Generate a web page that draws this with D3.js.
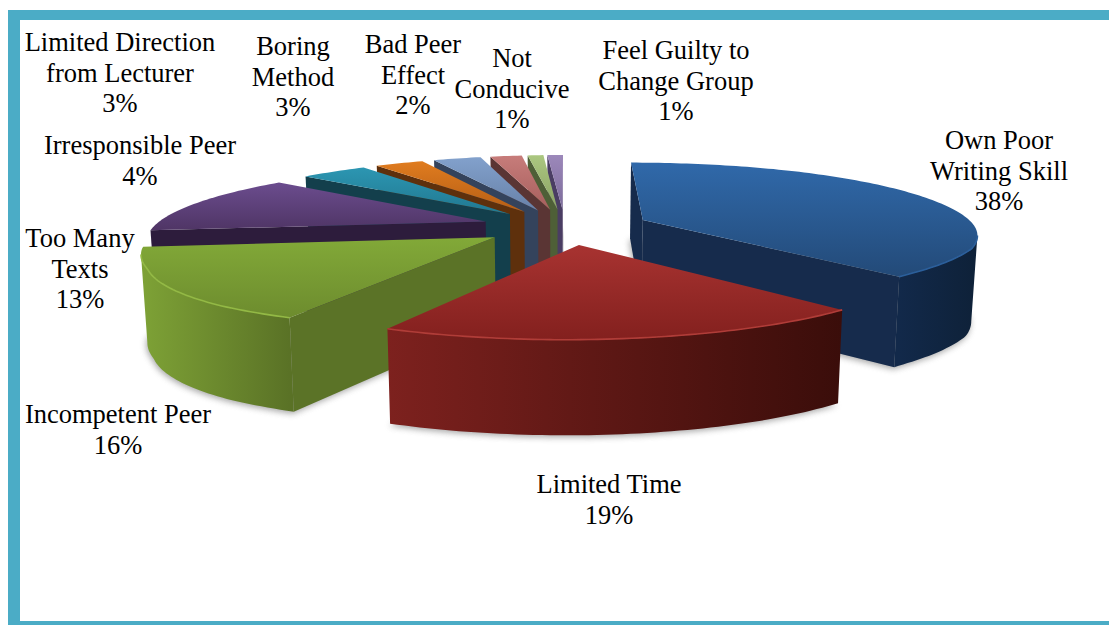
<!DOCTYPE html>
<html><head><meta charset="utf-8">
<script src="https://cdn.jsdelivr.net/npm/d3@7"></script>
<style>html,body{margin:0;padding:0;background:#fff}svg{display:block}text{font-family:"Liberation Serif",serif;font-size:26.5px;fill:#000}</style>
</head><body><svg id="c" width="1109" height="625"></svg>
<script>
// ---- data ----
const categories = ["Own Poor Writing Skill","Limited Time","Incompetent Peer","Too Many Texts","Irresponsible Peer","Limited Direction from Lecturer","Boring Method","Bad Peer Effect","Not Conducive","Feel Guilty to Change Group"];
const values = [38,19,16,13,4,3,3,2,1,1];
const labelLines = [["Own Poor","Writing Skill"],["Limited Time"],["Incompetent Peer"],["Too Many","Texts"],["Irresponsible Peer"],["Limited Direction","from Lecturer"],["Boring","Method"],["Bad Peer","Effect"],["Not","Conducive"],["Feel Guilty to","Change Group"]];
// ---- style / layout ----
const topLight = ["#3069aa","#a83331","#82a938","#6b4c8e","#2c96b2","#e07c1f","#82a1cc","#c77c7a","#abc780","#9c88ba"];
const topDark  = ["#234a78","#83201e","#6d8c2e","#4f3565","#217890","#b65e15","#6881a8","#a65f5d","#8aa264","#7c6b9b"];
const sideCol  = ["#162b4c","#5a1815","#5b7327","#2d1c3c","#133f4c","#5e300c","#34435c","#5a3534","#4e5f37","#4a3d63"];
const outerL   = ["#12294a","#7d211e","#7ea236","#2d1c3c","#133f4c","#5e300c","#34435c","#5a3534","#4e5f37","#4a3d63"];
const outerR   = ["#0e2138","#3a0d0a","#5a7226","#2d1c3c","#133f4c","#5e300c","#34435c","#5a3534","#4e5f37","#4a3d63"];
const rimCol   = ["#2c5f9b","#b03c38","#93b945",null,null,null,null,null,null,null];
const labelX = [999,609,118,80,140,120,293,413,512,676];
const labelY = [149,493,423,247,154,51,55,53,67,59];
const drawOrder = [9,8,7,6,5,4,0,3,2,1];

const svg = d3.select("#c");
const defs = svg.append("defs");
defs.append("filter").attr("id","blur").attr("x","-10%").attr("y","-20%").attr("width","120%").attr("height","140%")
  .append("feGaussianBlur").attr("stdDeviation",3);
defs.append("filter").attr("id","soft").append("feGaussianBlur").attr("stdDeviation",0.5);

// frame
const frameColor = "#4bacc6";
svg.append("rect").attr("x",8).attr("y",10).attr("width",1101).attr("height",10).attr("fill",frameColor);
svg.append("rect").attr("x",8).attr("y",10).attr("width",12).attr("height",615).attr("fill",frameColor);
svg.append("rect").attr("x",8).attr("y",621).attr("width",1101).attr("height",4).attr("fill",frameColor);

// projection of the exploded pie
const clamp01=v=>Math.max(0,Math.min(1,v));
const cx=565, cy=226.5, A=335, B=70, D=5.52, E=0.254, H=85;
function project(X,Z){
  const f=1/(1-Z/D);
  let x=cx+A*X*f, y=cy+B*Z*f;
  if(X<0) x-=14*clamp01((Z-0.55)/0.4);
  else x-=14*clamp01((Z-0.3)/0.3)+4*clamp01((Z-0.6)/0.4)+3*clamp01((X-0.8)/0.4)*clamp01((0.6-Z)/0.3);
  if(Z<0.3) x+=15*(0.3-Z)*clamp01(-X);
  return [x,y];
}
function pt(theta,bis,r,bottom){
  const X=E*Math.sin(bis)+r*Math.sin(theta), Z=-(E*Math.cos(bis)+r*Math.cos(theta));
  const p=project(X,Z);
  if(!bottom) return p;
  return [cx+(p[0]-cx)*0.985, p[1]+H*(1+0.1*Z)];
}
const pie=d3.pie().sort(null)(values);
const line=d3.line();
const closed=pts=>line(pts)+"Z";
const area=q=>d3.polygonArea(q);

function drawSlice(i){
  const d=pie[i], a0=d.startAngle, a1=d.endAngle, b=(a0+a1)/2;
  const n=Math.max(4,Math.ceil((a1-a0)/0.02));
  const ts=d3.range(n+1).map(k=>a0+(a1-a0)*k/n);
  const topArc=ts.map(t=>pt(t,b,1,false)), botArc=ts.map(t=>pt(t,b,1,true));
  const apexT=pt(0,b,0,false), apexB=pt(0,b,0,true);
  const g=svg.append("g").attr("class","slice");

  // soft ground shadow
  g.append("path").attr("d",closed([apexB,...botArc])).attr("fill","#777").attr("opacity",0.65)
    .attr("filter","url(#blur)").attr("transform","translate(-1,2)");

  // radial side walls, kept only when they face the viewer
  [[a0,topArc[0],botArc[0],1],[a1,topArc[n],botArc[n],-1]].forEach(([t,ct,cb,sign])=>{
    const q=[apexT,ct,cb,apexB];
    if(area(q)*sign>0) g.append("path").attr("d",closed(q)).attr("fill",sideCol[i]);
  });

  // outer curved wall: the segments running right-to-left face the viewer
  const vis=d3.range(n).filter(k=>topArc[k+1][0]<topArc[k][0] && ts[k]>Math.PI/3 && ts[k]<Math.PI*1.6);
  if(vis.length){
    const tp=[topArc[vis[0]],...vis.map(k=>topArc[k+1])], bp=[botArc[vis[0]],...vis.map(k=>botArc[k+1])];
    const xs=tp.map(p=>p[0]), id="out"+i;
    const gr=defs.append("linearGradient").attr("id",id).attr("gradientUnits","userSpaceOnUse")
      .attr("x1",d3.min(xs)).attr("x2",d3.max(xs)).attr("y1",0).attr("y2",0);
    gr.append("stop").attr("offset",0).attr("stop-color",outerL[i]);
    gr.append("stop").attr("offset",1).attr("stop-color",outerR[i]);
    g.append("path").attr("d",closed([...tp,...bp.reverse()])).attr("fill",`url(#${id})`);
  }

  // top face
  const ys=[apexT,...topArc].map(p=>p[1]), id2="top"+i;
  const gt=defs.append("linearGradient").attr("id",id2).attr("gradientUnits","userSpaceOnUse")
    .attr("x1",0).attr("x2",0).attr("y1",d3.min(ys)).attr("y2",d3.max(ys));
  gt.append("stop").attr("offset",0).attr("stop-color",topLight[i]);
  gt.append("stop").attr("offset",1).attr("stop-color",topDark[i]);
  g.append("path").attr("d",closed([apexT,...topArc])).attr("fill",`url(#${id2})`);

  // bevel highlight along the front rim
  if(rimCol[i] && vis.length){
    g.append("path").attr("d",line([topArc[vis[0]],...vis.map(k=>topArc[k+1])])).attr("fill","none")
      .attr("stroke",rimCol[i]).attr("stroke-width",1.6).attr("filter","url(#soft)");
  }
}
drawOrder.forEach(drawSlice);

// labels
categories.forEach((c,i)=>{
  const lines=[...labelLines[i],values[i]+"%"];
  const t=svg.append("text").attr("text-anchor","middle").attr("class","lbl").attr("aria-label",c);
  lines.forEach((s,k)=>t.append("tspan").attr("x",labelX[i]).attr("y",labelY[i]+k*30.5).text(s));
});
</script></body></html>
